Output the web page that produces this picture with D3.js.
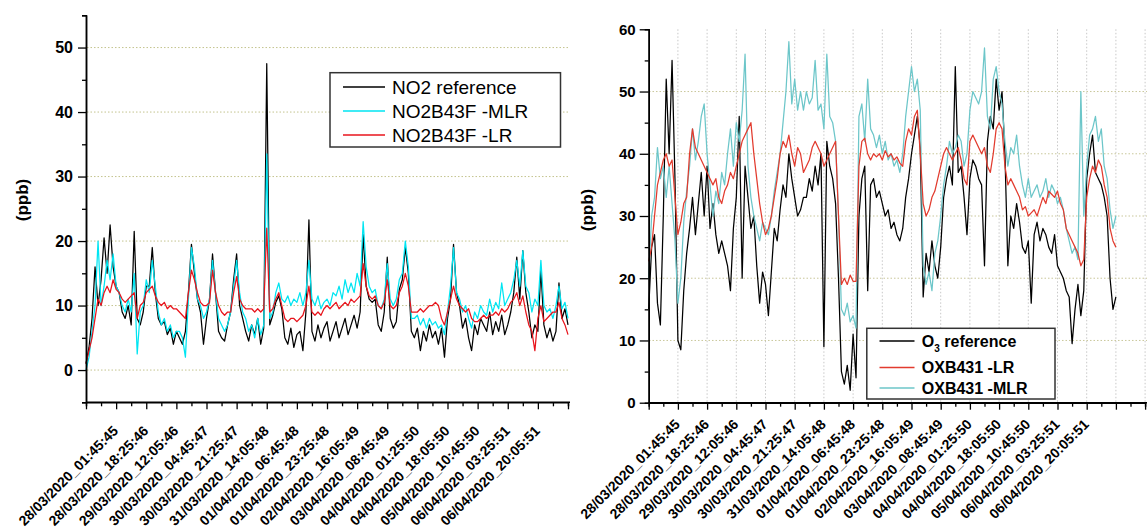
<!DOCTYPE html>
<html>
<head>
<meta charset="utf-8">
<script src="https://cdn.jsdelivr.net/npm/d3@7"></script>
<style>
  body { margin: 0; background: #fff; }
  svg { display: block; font-family: 'Liberation Sans', Arial, sans-serif; }
</style>
</head>
<body>
<div id="viz"></div>
<script>
// cores - colours: #000 ref, #00e5f2 / #e8141c left, #e23b2e / #6cc6c9 right

// rotulos do eixo x - x tick labels (one every 10 samples)
var tickLabels = [
    '28/03/2020_01:45:45', '28/03/2020_18:25:46', '29/03/2020_12:05:46',
    '30/03/2020_04:45:47', '30/03/2020_21:25:47', '31/03/2020_14:05:48',
    '01/04/2020_06:45:48', '01/04/2020_23:25:48', '02/04/2020_16:05:49',
    '03/04/2020_08:45:49', '04/04/2020_01:25:50', '04/04/2020_18:05:50',
    '05/04/2020_10:45:50', '06/04/2020_03:25:51', '06/04/2020_20:05:51'];

// NO2 (ppb)
var no2Ref = [
    1, 3.5, 8, 16, 10, 14, 20.5, 15, 22.5, 16, 13,
    12, 9, 8, 10, 7, 21.5, 8, 7, 9, 13,
    13, 19, 12, 8, 7, 7.5, 5.5, 6.5, 4, 6,
    5, 4, 6, 12, 19.5, 15, 11, 9, 4, 8,
    11, 18, 12, 6, 5, 4.5, 7, 9, 14, 18,
    10, 8, 6, 4.5, 7, 5.5, 8, 4, 6.5, 47.5,
    7, 8.5, 10.5, 11.5, 9.5, 5, 4, 6.5, 3.5, 5.5,
    6, 3, 9, 23.3, 6, 4.5, 7, 5, 6.5, 7.5,
    4.5, 6, 7.5, 5, 6.5, 8, 5.5, 7, 8.5, 6.5,
    9, 21, 13, 11, 10.5, 11, 7, 6, 9, 17.5,
    8, 6.5, 7.5, 12.5, 14, 19, 15, 6, 5, 6.5,
    3, 6, 4.5, 7, 5, 6, 4, 6.5, 2, 8,
    11, 19.5, 12, 10, 6.5, 8, 5, 3, 7, 5.5,
    8, 7, 6, 9, 5.5, 7.5, 6, 8.5, 5.5, 7,
    9, 12, 17.5, 11, 18.5, 12, 9, 5, 7, 6,
    15.5, 7, 5, 6.5, 4.5, 6, 13.5, 8, 9.5, 7];

var no2Mlr = [
    0, 2, 6, 10, 20, 10, 13, 17, 14, 18, 13,
    12, 10, 9, 11, 9, 15, 2.5, 9, 10, 14,
    12, 17, 13, 9, 7, 8, 6, 7, 5, 6,
    6, 5, 2, 11, 19, 16, 11, 10, 8, 9,
    11, 17, 12, 8, 7, 6, 7, 9, 13, 17,
    12, 9, 8, 6, 7, 5, 8, 5.5, 7, 33.5,
    8, 9, 12, 13.5, 11, 10.5, 11.5, 10, 11, 10.5,
    12, 10, 12, 17, 11, 10, 11.5, 9.5, 10.5, 11,
    10, 12, 11.5, 13, 11, 14, 12, 13.5, 12, 15,
    13, 23, 16, 13, 12, 12.5, 10, 9.5, 11, 16.5,
    11, 10, 11, 14, 15, 20, 16, 8, 8, 8.5,
    7, 8, 6.5, 8, 7, 7.5, 6.5, 7, 5.5, 9,
    13, 19, 12, 11, 9, 10, 8, 6.5, 9, 8,
    10, 9, 8.5, 11, 9, 10.5, 9.5, 13.5, 10, 11,
    12, 14, 17, 13, 18.5, 13, 12, 9, 11, 10,
    17, 10, 9, 9.5, 8, 10, 13, 9.5, 10.5, 8];

var no2Lr = [
    1, 3, 5, 8, 11, 10, 12, 13, 12, 14, 12.5,
    12, 11, 10.5, 11, 11.5, 12, 8, 10, 10.5, 12,
    12.5, 13, 11.5, 10.5, 10, 10.5, 9.5, 10, 9.5, 9.5,
    9, 8.5, 8, 12, 15.5, 14, 12, 10.5, 10, 10,
    10.5, 15.5, 12, 10, 9, 8.5, 9, 9, 12, 14.5,
    11, 10, 9.5, 9.5, 9.5, 9, 9.5, 9, 9.5, 22,
    9, 9.5, 11, 12, 10, 8, 7.5, 8, 8, 7.5,
    8, 8.5, 10, 13, 9, 8.5, 9, 8.5, 9.5, 10,
    9.5, 10, 10.5, 9.5, 10, 10.5, 10, 11, 10.5, 11,
    11.5, 16.5, 13, 11.5, 11, 11.5, 10, 9.5, 10.5, 14,
    10, 9.5, 10, 12, 13, 15, 13, 9, 9, 9,
    9.5, 9, 9.5, 10, 10, 10.5, 10, 8, 7, 9,
    11, 13, 11, 10, 9.5, 9, 9.5, 8, 7.5, 7.5,
    8, 8.5, 8, 8.5, 8.5, 9, 8.5, 9.5, 9, 9.5,
    10.5, 11, 12, 10, 11.5, 9, 7, 6, 3, 8,
    10, 7.5, 8, 8.5, 9, 9, 10.5, 8, 7, 5.5];

// O3 (ppb)
var o3Ref = [
    15, 25, 27, 16, 12.5, 30, 52, 40, 55, 36, 10,
    8.5, 18, 24, 28, 33, 27, 32, 37, 30, 38,
    28, 32, 27, 24, 26, 24, 22, 18, 28, 33,
    46, 20, 38, 33, 28, 30, 22, 16, 21, 19,
    14, 21, 28, 26, 31, 35, 33, 40, 36, 33,
    30, 31, 33, 33, 36, 34, 38, 35, 40, 9,
    42, 38, 36, 32, 20, 5, 3, 6, 2, 11,
    4, 30, 36, 38, 18, 35, 36, 33, 34, 32,
    30, 31, 28, 29, 27, 26, 28, 33, 36, 40,
    43, 46, 41, 17, 24, 21, 26, 22, 20, 25,
    33, 36, 38, 35, 54, 37, 38, 33, 27, 36,
    39, 38, 36, 35, 22, 42, 46, 44, 52, 47,
    50, 40, 22, 30, 28, 32, 29, 25, 24, 26,
    16, 27, 29, 26, 28, 27, 25, 24, 27, 22,
    21, 20, 18, 17, 9.5, 15, 19, 14, 18, 36,
    40, 43, 37, 36, 35, 33, 30, 20, 15, 17];

var o3Lr = [
    22.7, 25, 30, 35, 37, 39, 40, 38, 39, 33, 27,
    29, 32, 33, 40, 44, 41, 40, 39, 38, 37,
    36, 35, 36, 33, 32, 34, 35, 37, 36, 38,
    40, 42, 43, 44, 45, 40, 36, 32, 29, 27,
    28, 30, 33, 36, 40, 42, 41, 43, 40, 38,
    41, 40, 37, 38, 39, 41, 42, 41, 40, 38,
    39, 40, 41, 42, 30, 19, 20, 19, 20.5, 19.5,
    19.5, 38, 42, 42.5, 40, 39, 40, 39.5, 40, 39,
    40.5, 39.5, 40, 39, 39.5, 38.5, 38, 42, 44, 43,
    46, 47, 40, 32, 30, 31, 33, 34, 36, 38,
    40, 41, 40, 39, 40, 41, 39, 36, 35, 42,
    43, 42, 41, 40, 41, 38, 37, 40, 44, 45,
    44, 38, 35, 36, 35, 34, 33, 31, 31.5, 30,
    30.5, 31, 30, 31.5, 33, 32, 34, 33.5, 33, 34,
    32, 31, 28, 27, 26, 25, 24, 22, 23, 33,
    36, 38, 37, 39, 38, 35, 33, 28, 26, 25];

var o3Mlr = [
    20, 30, 33, 41, 36, 38, 33, 38, 32, 26, 16,
    20, 29, 34, 38, 44, 39, 42, 46, 48, 40,
    35, 30, 34, 32, 37, 35, 40, 44, 38, 45,
    42, 47, 56, 38, 33, 30, 28, 26, 29, 28,
    27, 30, 34, 37, 40, 45, 50, 58, 48, 52,
    47, 50, 47, 50, 48, 49, 55, 47, 48, 44,
    56, 46, 45, 42, 30, 15, 14, 16, 13, 14,
    12, 46, 48, 42, 52, 44, 43, 41, 43, 40,
    42, 39, 40, 38, 39, 37, 40, 46, 50, 54,
    50, 52, 47, 22, 19, 21, 18, 24, 26, 30,
    35, 38, 42, 40, 41, 43, 42, 38, 40, 47,
    50, 49, 48, 50, 57, 46, 44, 52, 54, 50,
    48, 42, 38, 41, 40, 43, 38, 35, 33, 36,
    33, 34, 35, 33, 34, 36, 33, 35, 34, 32,
    33, 31, 28, 26, 24, 25, 23, 50, 30, 38,
    43, 44, 46, 42, 44, 38, 36, 31, 28, 30];

// textos da legenda - legend texts
var leftNames = ['NO2 reference', 'NO2B43F -MLR', 'NO2B43F -LR'];
var rightNames = ['O', 'OXB431 -LR', 'OXB431 -MLR'];

var svg = d3
.select('#viz')
.append('svg')
.attr('width', 1147)
.attr('height', 528)
;

var bold = 'bold';
var lineW = 1.25;

// ---------- painel esquerdo - left panel ----------
var xL = d3.scaleLinear().domain([0, 160]).range([86, 568]);
var yL = d3.scaleLinear().domain([-5, 55]).range([402.3, 15.3]);

var gL = svg.append('g').attr('class', 'left');

// linhas de grade - grid lines
gL.selectAll('line.grid')
.data([0, 10, 20, 30, 40, 50])
.enter()
.append('line')
.attr('class', 'grid')
.attr('x1', 87)
.attr('x2', 570)
.attr('y1', function(d){ return yL(d); })
.attr('y2', function(d){ return yL(d); })
.attr('stroke', '#c4c48e')
.attr('stroke-width', 1)
.attr('stroke-dasharray', '1.5,2')
;

var lineL = d3.line()
.x(function(d, i){ return xL(i); })
.y(function(d){ return yL(d); })
;

var leftSeries = [
    {vals: no2Ref, color: '#000000'},
    {vals: no2Mlr, color: '#00e5f2'},
    {vals: no2Lr, color: '#e8141c'}];

gL.selectAll('path.serie')
.data(leftSeries)
.enter()
.append('path')
.attr('class', 'serie')
.attr('d', function(d){ return lineL(d.vals); })
.attr('fill', 'none')
.attr('stroke', function(d){ return d.color; })
.attr('stroke-width', lineW)
.attr('stroke-linejoin', 'round')
;

// eixo y - y axis
gL.append('g')
.attr('transform', 'translate(86,0)')
.call(d3.axisLeft(yL).tickValues([-5, 5, 15, 25, 35, 45, 55]).tickSize(4).tickFormat(''))
.call(styleAxis)
;

gL.append('g')
.attr('transform', 'translate(86,0)')
.call(d3.axisLeft(yL).tickValues([0, 10, 20, 30, 40, 50]).tickSize(8).tickSizeOuter(0).tickPadding(5))
.call(styleAxis)
.selectAll('text')
.attr('font-size', '16px')
.attr('font-weight', bold)
;

// eixo x - x axis
gL.append('g')
.attr('transform', 'translate(0,402.3)')
.call(d3.axisBottom(xL).tickValues(d3.range(5, 160, 10)).tickSize(4).tickFormat(''))
.call(styleAxis)
;

gL.append('g')
.attr('class', 'xaxis')
.attr('transform', 'translate(0,402.3)')
.call(d3.axisBottom(xL).tickValues(d3.range(0, 161, 10)).tickSize(7).tickSizeOuter(0)
    .tickFormat(function(d){ return tickLabels[d / 10 - 1] || ''; }))
.call(styleAxis)
.call(rotateLabels, 26)
;

gL.select('.xaxis .domain').attr('d', 'M86,0H570');

gL.append('text')
.text('(ppb)')
.attr('transform', 'translate(28,200) rotate(-90)')
.attr('text-anchor', 'middle')
.attr('font-size', '17px')
.attr('font-weight', bold)
;

// legenda - legend
var legL = gL.append('g').attr('class', 'legend');

legL.append('rect')
.attr('x', 330).attr('y', 72.7)
.attr('width', 230.5).attr('height', 74.3)
.attr('fill', '#fff')
.attr('stroke', '#333')
.attr('stroke-width', 1.5)
;

legL.selectAll('line.item')
.data(leftSeries)
.enter()
.append('line')
.attr('class', 'item')
.attr('x1', 343).attr('x2', 385)
.attr('y1', function(d, i){ return 87 + 24 * i; })
.attr('y2', function(d, i){ return 87 + 24 * i; })
.attr('stroke', function(d){ return d.color; })
.attr('stroke-width', 1.5)
;

legL.selectAll('text.item')
.data(leftNames)
.enter()
.append('text')
.attr('class', 'item')
.text(function(d){ return d; })
.attr('x', 392)
.attr('y', function(d, i){ return 87 + 24 * i; })
.attr('dy', '0.36em')
.attr('font-size', '19px')
;

// ---------- painel direito - right panel ----------
var xR = d3.scaleLinear().domain([0, 160]).range([648.7, 1115.9]);
var yR = d3.scaleLinear().domain([0, 60]).range([402.7, 29.3]);

var gR = svg.append('g').attr('class', 'right');

gR.selectAll('line.vgrid')
.data(d3.range(10, 171, 10))
.enter()
.append('line')
.attr('class', 'vgrid')
.attr('x1', function(d){ return xR(d); })
.attr('x2', function(d){ return xR(d); })
.attr('y1', 29.3)
.attr('y2', 402)
.attr('stroke', '#c8c8c8')
.attr('stroke-dasharray', '1.5,2')
;

gR.selectAll('line.hgrid')
.data([10, 20, 30, 40, 50])
.enter()
.append('line')
.attr('class', 'hgrid')
.attr('x1', 649)
.attr('x2', 1147)
.attr('y1', function(d){ return yR(d); })
.attr('y2', function(d){ return yR(d); })
.attr('stroke', '#c9c79a')
.attr('stroke-dasharray', '1.5,2')
;

var lineR = d3.line()
.x(function(d, i){ return xR(i); })
.y(function(d){ return yR(d); })
;

var rightSeries = [
    {vals: o3Ref, color: '#000000'},
    {vals: o3Lr, color: '#e23b2e'},
    {vals: o3Mlr, color: '#6cc6c9'}];

// ordem de desenho - draw order: ref, MLR, LR on top
gR.selectAll('path.serie')
.data([rightSeries[0], rightSeries[2], rightSeries[1]])
.enter()
.append('path')
.attr('class', 'serie')
.attr('d', function(d){ return lineR(d.vals); })
.attr('fill', 'none')
.attr('stroke', function(d){ return d.color; })
.attr('stroke-width', lineW)
.attr('stroke-linejoin', 'round')
;

gR.append('g')
.attr('transform', 'translate(648.7,0)')
.call(d3.axisLeft(yR).tickValues([5, 15, 25, 35, 45, 55]).tickSize(4).tickFormat(''))
.call(styleAxis)
;

gR.append('g')
.attr('transform', 'translate(648.7,0)')
.call(d3.axisLeft(yR).tickValues([0, 10, 20, 30, 40, 50, 60]).tickSize(9).tickSizeOuter(0).tickPadding(4))
.call(styleAxis)
.selectAll('text')
.attr('font-size', '15px')
.attr('font-weight', bold)
;

var xRaxis = d3.scaleLinear().domain([0, 170]).range([xR(0), xR(170)]);

gR.append('g')
.attr('transform', 'translate(0,402.7)')
.call(d3.axisBottom(xRaxis).tickValues(d3.range(5, 170, 10)).tickSize(4).tickFormat(''))
.call(styleAxis)
;

gR.append('g')
.attr('class', 'xaxis')
.attr('transform', 'translate(0,402.7)')
.call(d3.axisBottom(xRaxis).tickValues(d3.range(0, 171, 10)).tickSize(7).tickSizeOuter(0)
    .tickFormat(function(d){ return tickLabels[d / 10 - 1] || ''; }))
.call(styleAxis)
.call(rotateLabels, 19)
;

gR.select('.xaxis .domain').attr('d', 'M648.7,0H1147');

gR.append('text')
.text('(ppb)')
.attr('transform', 'translate(593,210) rotate(-90)')
.attr('text-anchor', 'middle')
.attr('font-size', '17px')
.attr('font-weight', bold)
;

var legR = gR.append('g').attr('class', 'legend');

legR.append('rect')
.attr('x', 866.8).attr('y', 328.3)
.attr('width', 188.2).attr('height', 70.7)
.attr('fill', '#fff')
.attr('stroke', '#333')
.attr('stroke-width', 1.5)
;

var legRy = [341, 367.5, 388];

legR.selectAll('line.item')
.data(rightSeries)
.enter()
.append('line')
.attr('class', 'item')
.attr('x1', 879.5).attr('x2', 914.5)
.attr('y1', function(d, i){ return legRy[i]; })
.attr('y2', function(d, i){ return legRy[i]; })
.attr('stroke', function(d){ return d.color; })
.attr('stroke-width', 1.5)
;

var legRtext = legR.selectAll('text.item')
.data(rightNames)
.enter()
.append('text')
.attr('class', 'item')
.attr('x', 921.8)
.attr('y', function(d, i){ return legRy[i]; })
.attr('dy', '0.36em')
.attr('font-size', '16px')
.attr('font-weight', bold)
;

legRtext.append('tspan').text(function(d){ return d; });
// O3 com subscrito - subscript 3 on the first item
legRtext.filter(function(d, i){ return i === 0; })
.call(function(t){
    t.append('tspan').text('3').attr('font-size', '10px').attr('dy', '5');
    t.append('tspan').text(' reference').attr('dy', '-5');
});

// ---------- helpers ----------
function styleAxis(g) {
    g.select('.domain').attr('stroke', '#000').attr('stroke-width', 1.5);
    g.selectAll('.tick line').attr('stroke', '#000').attr('stroke-width', 1.3);
    g.selectAll('text').attr('fill', '#000').attr('font-family', "'Liberation Sans', Arial, sans-serif");
}

function rotateLabels(g, down) {
    g.selectAll('.tick text')
    .attr('y', 0)
    .attr('x', 0)
    .attr('dy', '0.35em')
    .attr('text-anchor', 'end')
    .attr('font-size', '14px')
    .attr('font-weight', bold)
    .attr('transform', 'translate(-1,' + down + ') rotate(-45)')
    ;
}
</script>
</body>
</html>
